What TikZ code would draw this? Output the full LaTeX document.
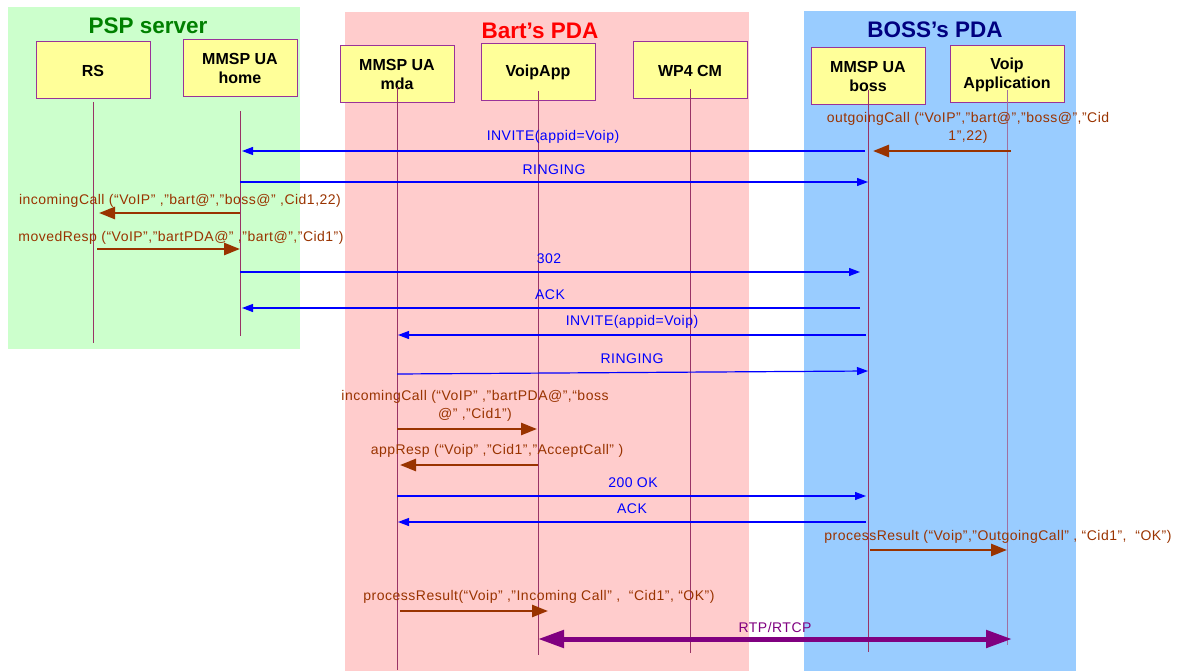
\documentclass[tikz,border=0pt]{standalone}
\usepackage{fontspec}
\setmainfont{Liberation Sans}
\usetikzlibrary{arrows.meta,calc}
\definecolor{bggreen}{HTML}{CCFFCC}
\definecolor{bgpink}{HTML}{FFCCCC}
\definecolor{bgblue}{HTML}{99CCFF}
\definecolor{boxfill}{HTML}{FFFF99}
\definecolor{boxline}{HTML}{993399}
\definecolor{lifec}{HTML}{993366}
\definecolor{lifec2}{HTML}{A070A0}
\definecolor{sigblue}{HTML}{0000FF}
\definecolor{callbrown}{HTML}{993300}
\definecolor{rtppurple}{HTML}{800080}
\definecolor{tgreen}{HTML}{008000}
\definecolor{tred}{HTML}{FF0000}
\definecolor{tnavy}{HTML}{000080}
\newcommand\labfont{\fontsize{14}{18}\selectfont\addfontfeatures{LetterSpace=3.5}}
\begin{document}
\begin{tikzpicture}[x=1pt,y=-1pt,
  box/.style={draw=boxline, fill=boxfill, line width=1pt, minimum width=114pt, minimum height=57pt,
    inner sep=0pt, align=center, text=black, font=\fontsize{16}{19}\selectfont\bfseries},
  title/.style={inner sep=0pt, font=\fontsize{22.5}{26}\selectfont\bfseries},
  lifeline/.style={draw=lifec, line width=1pt},
  sig/.style={draw=sigblue, line width=1.2pt, -{Triangle[length=11pt,width=8pt]}},
  call/.style={draw=callbrown, line width=2.6pt, -{Triangle[length=16pt,width=12pt]}},
  rtp/.style={draw=rtppurple, line width=5pt, {Triangle[length=26pt,width=17pt]}-{Triangle[length=26pt,width=17pt]}},
  slab/.style={inner sep=0pt, text=sigblue, font=\labfont},
  clab/.style={inner sep=0pt, text=callbrown, align=center, font=\labfont},
  rlab/.style={inner sep=0pt, text=rtppurple, font=\labfont}
]
\useasboundingbox (0,0) rectangle (1186,671);
% backgrounds
\fill[bggreen] (8,7) rectangle (300,349);
\fill[bgpink] (345,12) rectangle (749,671);
\fill[bgblue] (804,11) rectangle (1076,671);
% titles
\node[title, text=tgreen] (tpsp) at (148,26) {PSP server};
\node[title, text=tred] (tbart) at (540,31) {Bart’s PDA};
\node[title, text=tnavy] (tboss) at (935,30) {BOSS’s PDA};
% boxes
\node[box] (rs) at (93,70.5) {RS};
\node[box] (home) at (240,68.5) {MMSP UA\\home};
\node[box] (mda) at (397,74.5) {MMSP UA\\mda};
\node[box] (voip) at (538,72.5) {VoipApp};
\node[box] (wp4) at (690,70.5) {WP4 CM};
\node[box] (boss) at (868,76.5) {MMSP UA\\boss};
\node[box] (vapp) at (1007,74.5) {Voip\\Application};
% lifelines
\draw[lifeline] (rs.center |- 0,102) -- (rs.center |- 0,343);
\draw[lifeline] (home.center |- 0,111) -- (home.center |- 0,336);
\draw[lifeline] (mda.center |- 0,87) -- (mda.center |- 0,670);
\draw[lifeline] (voip.center |- 0,91) -- (voip.center |- 0,655);
\draw[lifeline] (wp4.center |- 0,89) -- (wp4.center |- 0,653);
\draw[lifeline] (boss.center |- 0,90) -- (boss.center |- 0,652);
\draw[lifeline, draw=lifec2] (vapp.center |- 0,90) -- (vapp.center |- 0,645);
% messages
\node[clab] (l1) at (968,128) {outgoingCall (“VoIP”,"bart@","boss@","Cid\\1",22)};
\draw[call] ($(vapp.center |- 0,151)+(4,0)$) -- ($(boss.center |- 0,151)+(5,0)$);
\node[slab] (l2) at (553,137) {INVITE(appid=Voip)};
\draw[sig] ($(boss.center |- 0,151)+(-3,0)$) -- ($(home.center |- 0,151)+(2,0)$);
\node[slab] (l3) at (554,170) {RINGING};
\draw[sig] (home.center |- 0,182) -- (boss.center |- 0,182);
\node[clab] (l4) at (180,201) {incomingCall (“VoIP” ,"bart@","boss@" ,Cid1,22)};
\draw[call] (home.center |- 0,213) -- ($(rs.center |- 0,213)+(6,0)$);
\node[clab] (l5) at (181,238) {movedResp (“VoIP”,"bartPDA@" ,"bart@","Cid1”)};
\draw[call] ($(rs.center |- 0,249)+(4,0)$) -- (home.center |- 0,249);
\node[slab] (l6) at (549,259) {302};
\draw[sig] (home.center |- 0,272) -- ($(boss.center |- 0,272)+(-8,0)$);
\node[slab] (l7) at (550,295) {ACK};
\draw[sig] ($(boss.center |- 0,308)+(-8,0)$) -- ($(home.center |- 0,308)+(2,0)$);
\node[slab] (l8) at (632,322) {INVITE(appid=Voip)};
\draw[sig] ($(boss.center |- 0,335)+(-2,0)$) -- ($(mda.center |- 0,335)+(1,0)$);
\node[slab] (l9) at (632,359) {RINGING};
\draw[sig] (mda.center |- 0,374) -- (boss.center |- 0,371);
\node[clab] (l10) at (475,406) {incomingCall (“VoIP” ,"bartPDA@",“boss\\@" ,"Cid1”)};
\draw[call] (mda.center |- 0,429) -- ($(voip.center |- 0,429)+(-1,0)$);
\node[clab] (l11) at (497,451) {appResp (“Voip” ,"Cid1”,"AcceptCall” )};
\draw[call] (voip.center |- 0,465) -- ($(mda.center |- 0,465)+(3,0)$);
\node[slab] (l12) at (633,483) {200 OK};
\draw[sig] (mda.center |- 0,496) -- ($(boss.center |- 0,496)+(-2,0)$);
\node[slab] (l13) at (632,509) {ACK};
\draw[sig] ($(boss.center |- 0,522)+(-2,0)$) -- ($(mda.center |- 0,522)+(1,0)$);
\node[clab] (l14) at (998,537) {processResult (“Voip”,"OutgoingCall” , “Cid1”,\ \ “OK”)};
\draw[call] ($(boss.center |- 0,550)+(2,0)$) -- (vapp.center |- 0,550);
\node[clab] (l15) at (539,597) {processResult(“Voip” ,"Incoming Call” ,\ \ “Cid1”, “OK”)};
\draw[call] ($(mda.center |- 0,611)+(3,0)$) -- ($(voip.center |- 0,611)+(10,0)$);
\node[rlab] (l16) at (775,627) {RTP/RTCP};
\draw[rtp] (voip.center |- 0,639) -- ($(vapp.center |- 0,639)+(5,0)$);
\end{tikzpicture}
\end{document}
